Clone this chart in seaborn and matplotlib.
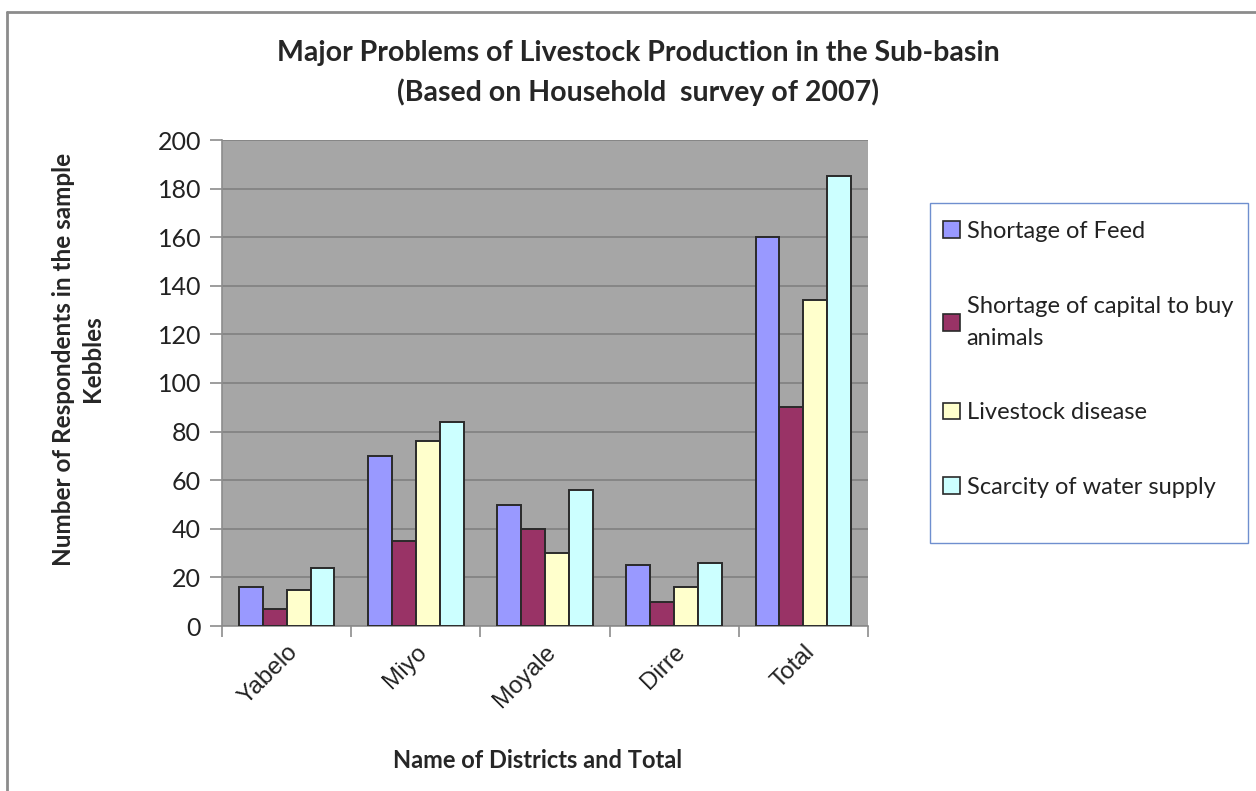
import matplotlib
matplotlib.use("Agg")
import matplotlib.pyplot as plt
import seaborn as sns
import pandas as pd
from matplotlib.patches import Patch, Rectangle
from matplotlib.lines import Line2D

districts = ["Yabelo", "Miyo", "Moyale", "Dirre", "Total"]
problems = ["Shortage of Feed", "Shortage of capital to buy\nanimals",
            "Livestock disease", "Scarcity of water supply"]
feed = [16, 70, 50, 25, 160]
capital = [7, 35, 40, 10, 90]
disease = [15, 76, 30, 16, 134]
water = [24, 84, 56, 26, 185]
colors = ["#9999FF", "#993366", "#FFFFCC", "#CCFFFF"]

rows = []
for p, vals in zip(problems, [feed, capital, disease, water]):
    for d, v in zip(districts, vals):
        rows.append({"District": d, "Problem": p, "Value": v})
df = pd.DataFrame(rows)

sns.set_theme(style="white")
plt.rcParams["font.family"] = ["Lato", "DejaVu Sans"]

W, H = 1256, 791
fig = plt.figure(figsize=(W / 100, H / 100), dpi=100)
ax = fig.add_axes([222 / W, 1 - 626 / H, (868 - 222) / W, (626 - 140) / H])
ax.set_facecolor("#A6A6A6")

sns.barplot(data=df, x="District", y="Value", hue="Problem", order=districts,
            hue_order=problems, palette=colors, saturation=1, width=0.74, dodge=True,
            edgecolor="#2A2A2A", linewidth=1.4, ax=ax, legend=False, zorder=3)

ax.set_ylim(0, 200)
ax.set_xlim(-0.5, 4.5)
ax.set_yticks(range(0, 201, 20))
ax.grid(axis="y", color="#808080", linewidth=1.2, zorder=0)
ax.set_axisbelow(True)
for s in ["top", "right"]:
    ax.spines[s].set_visible(False)
for s in ["left", "bottom"]:
    ax.spines[s].set_color("#8C8C8C")
    ax.spines[s].set_linewidth(1.2)

ax.tick_params(axis="y", which="major", direction="out", length=9, color="#8C8C8C",
               width=1.2, labelsize=18, pad=6, left=True, labelcolor="#222222")
ax.set_xticks([i - 0.5 for i in range(6)], minor=True)
ax.tick_params(axis="x", which="minor", direction="out", length=8, color="#8C8C8C",
               width=1.2, bottom=True)
ax.tick_params(axis="x", which="major", length=0, pad=11)
ax.set_xticklabels(districts, rotation=45, ha="right", rotation_mode="anchor",
                   fontsize=17.5, family=["Liberation Sans", "DejaVu Sans"], color="#222222")

ax.set_xlabel("Name of Districts and Total", fontsize=17, fontweight="bold")
ax.set_ylabel("Number of Respondents in the sample\nKebbles", fontsize=17.5,
              fontweight="bold", linespacing=1.3)
ax.xaxis.set_label_coords((538 - 222) / (868 - 222), -(761 - 626) / (626 - 140))
ax.xaxis.label.set_va("center")
ax.yaxis.set_label_coords(-(222 - 78) / (868 - 222), (626 - 359) / (626 - 140))
ax.yaxis.label.set_va("center")

fig.text(638 / W, 1 - 53 / H, "Major Problems of Livestock Production in the Sub-basin",
         ha="center", va="center", fontsize=20.5, fontweight="bold")
fig.text(638 / W, 1 - 92 / H, "(Based on Household  survey of 2007)",
         ha="center", va="center", fontsize=20.5, fontweight="bold")

# legend box
fig.add_artist(Rectangle((930 / W, 1 - 543 / H), (1248 - 930) / W, (543 - 203) / H,
                         transform=fig.transFigure, facecolor="white",
                         edgecolor="#6F8FCF", linewidth=1.0, zorder=1))
handles = [Patch(facecolor=c, edgecolor="#2A2A2A", linewidth=1.2) for c in colors]
leg = fig.legend(handles, problems, loc="upper left",
                 bbox_to_anchor=(943 / W, 1 - 221 / H), frameon=False,
                 fontsize=17, labelspacing=2.27, handlelength=0.7, handleheight=0.7,
                 handletextpad=0.3, borderpad=0, borderaxespad=0)
leg.set_zorder(2)
for t in leg.get_texts():
    t.set_linespacing(1.66)
    t.set_color("#222222")

# outer frame
fig.add_artist(Line2D([7 / W, 7 / W], [0, 1 - 12 / H], transform=fig.transFigure,
                      color="#8C8C8C", linewidth=2))
fig.add_artist(Line2D([7 / W, 1], [1 - 12 / H, 1 - 12 / H], transform=fig.transFigure,
                      color="#8C8C8C", linewidth=2))

fig.savefig("out.png", dpi=100)
